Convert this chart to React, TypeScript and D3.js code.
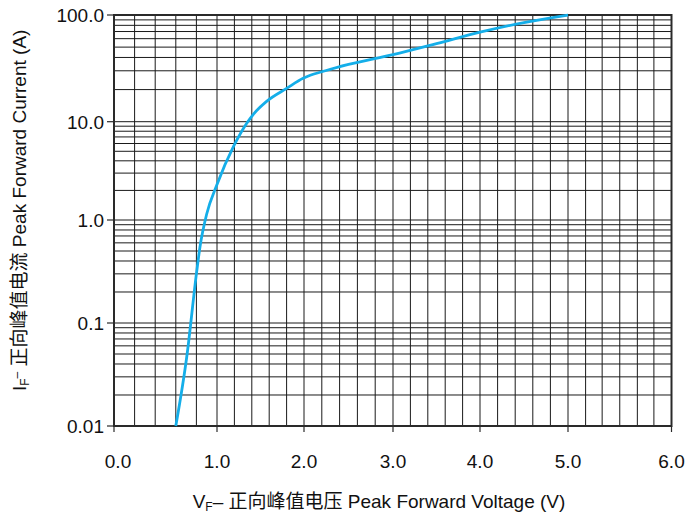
import * as d3 from 'd3'

// forward characteristic
const voltage = [0.6, 0.71, 0.8, 0.835, 0.9, 1.0, 1.19, 1.34, 1.42, 1.57, 1.8, 1.99, 2.05, 2.25, 2.5, 3.0, 3.5, 4.0, 4.5, 5.0]
const current = [0.01, 0.05, 0.3, 0.55, 1.15, 2.3, 5.6, 9.6, 11.8, 15.5, 20.5, 25.5, 26.8, 30.2, 34.4, 42.6, 54, 69, 85, 100]

const xTicks = [0, 1, 2, 3, 4, 5, 6]
const xTickLabels = ['0.0', '1.0', '2.0', '3.0', '4.0', '5.0', '6.0']
const yTicks = [0.01, 0.1, 1, 10, 100]
const yTickLabels = ['0.01', '0.1', '1.0', '10.0', '100.0']

// minor grid: 0.2 V steps up to 5 V, sixths from 5 to 6 V
const xGrid = [
  0.2, 0.4, 0.6, 0.8, 1.2, 1.4, 1.6, 1.8, 2.2, 2.4, 2.6, 2.8, 3.2, 3.4, 3.6, 3.8,
  4.2, 4.4, 4.6, 4.8, 5.17, 5.33, 5.5, 5.67, 5.83,
]
const yGridMultipliers = [2, 3, 4, 5, 6, 7, 8, 9]

const xTitle = '正向峰值电压 Peak Forward Voltage (V)'
const yTitle = '正向峰值电流 Peak Forward Current (A)'

const width = 688
const height = 516
const font = '"Liberation Sans", Arial, "Noto Sans CJK SC", sans-serif'

export default function App() {
  // the printed grid is not quite uniform, so both scales are piecewise
  const x = d3.scaleLinear(xTicks, [114, 217, 304, 393, 480, 568, 671.5])
  const y = d3.scaleLog(yTicks, [426, 323, 220, 121.7, 15])

  const [x0, x1] = [x(0), x(6)]
  const [y0, y1] = [y(0.01), y(100)]

  const yGrid = yTicks.slice(0, -1).flatMap((d) => yGridMultipliers.map((m) => d * m))

  const points = voltage.map((v, i) => [v, current[i]] as [number, number])
  const line = d3
    .line<[number, number]>()
    .x((d) => x(d[0]))
    .y((d) => y(d[1]))
    .curve(d3.curveMonotoneX)

  return (
    <svg
      width={width}
      height={height}
      style={{ position: 'absolute', left: 0, top: 0, background: '#fff' }}
      fontFamily={font}
    >
      {/* grid */}
      <g stroke="#1a1a1a" strokeWidth={1}>
        {xGrid.map((d) => (
          <line key={'vx' + d} x1={x(d)} x2={x(d)} y1={y1} y2={y0} />
        ))}
        {xTicks.map((d) => (
          <line key={'mx' + d} x1={x(d)} x2={x(d)} y1={y1} y2={y0} />
        ))}
        {yGrid.map((d) => (
          <line key={'hy' + d} x1={x0} x2={x1} y1={y(d)} y2={y(d)} />
        ))}
        {yTicks.map((d) => (
          <line key={'my' + d} x1={x0} x2={x1} y1={y(d)} y2={y(d)} />
        ))}
      </g>

      {/* frame + ticks */}
      <rect x={x0} y={y1} width={x1 - x0} height={y0 - y1} fill="none" stroke="#2a2a2a" strokeWidth={2} />
      <g stroke="#2a2a2a" strokeWidth={1.2}>
        {xTicks.map((d) => (
          <line key={'tx' + d} x1={x(d)} x2={x(d)} y1={y0} y2={y0 + 6} />
        ))}
        {yTicks.map((d) => (
          <line key={'ty' + d} x1={x0 - 7} x2={x0} y1={y(d)} y2={y(d)} />
        ))}
      </g>

      {/* curve */}
      <path d={line(points) ?? ''} fill="none" stroke="#14aee9" strokeWidth={2.8} strokeLinejoin="round" />

      {/* tick labels */}
      <g fontSize={19} fill="#111">
        {xTicks.map((d, i) => (
          <text key={'lx' + d} x={x(d) + (i === 0 ? 4 : 0)} y={468} textAnchor="middle">
            {xTickLabels[i]}
          </text>
        ))}
        {yTicks.map((d, i) => (
          <text key={'ly' + d} x={104} y={y(d)} dy="0.36em" textAnchor="end">
            {yTickLabels[i]}
          </text>
        ))}
      </g>

      {/* axis titles */}
      <text x={379} y={508} textAnchor="middle" fontSize={19} fill="#111">
        V<tspan fontSize={12} dy={3}>F</tspan>
        <tspan dy={-3}>– {xTitle}</tspan>
      </text>
      <text transform="translate(26,391) rotate(-90)" fontSize={19} fill="#111">
        I<tspan fontSize={12} dy={3}>F</tspan>
        <tspan fontSize={12} dy={-8}>–</tspan>
        <tspan dy={5}> {yTitle}</tspan>
      </text>
    </svg>
  )
}
